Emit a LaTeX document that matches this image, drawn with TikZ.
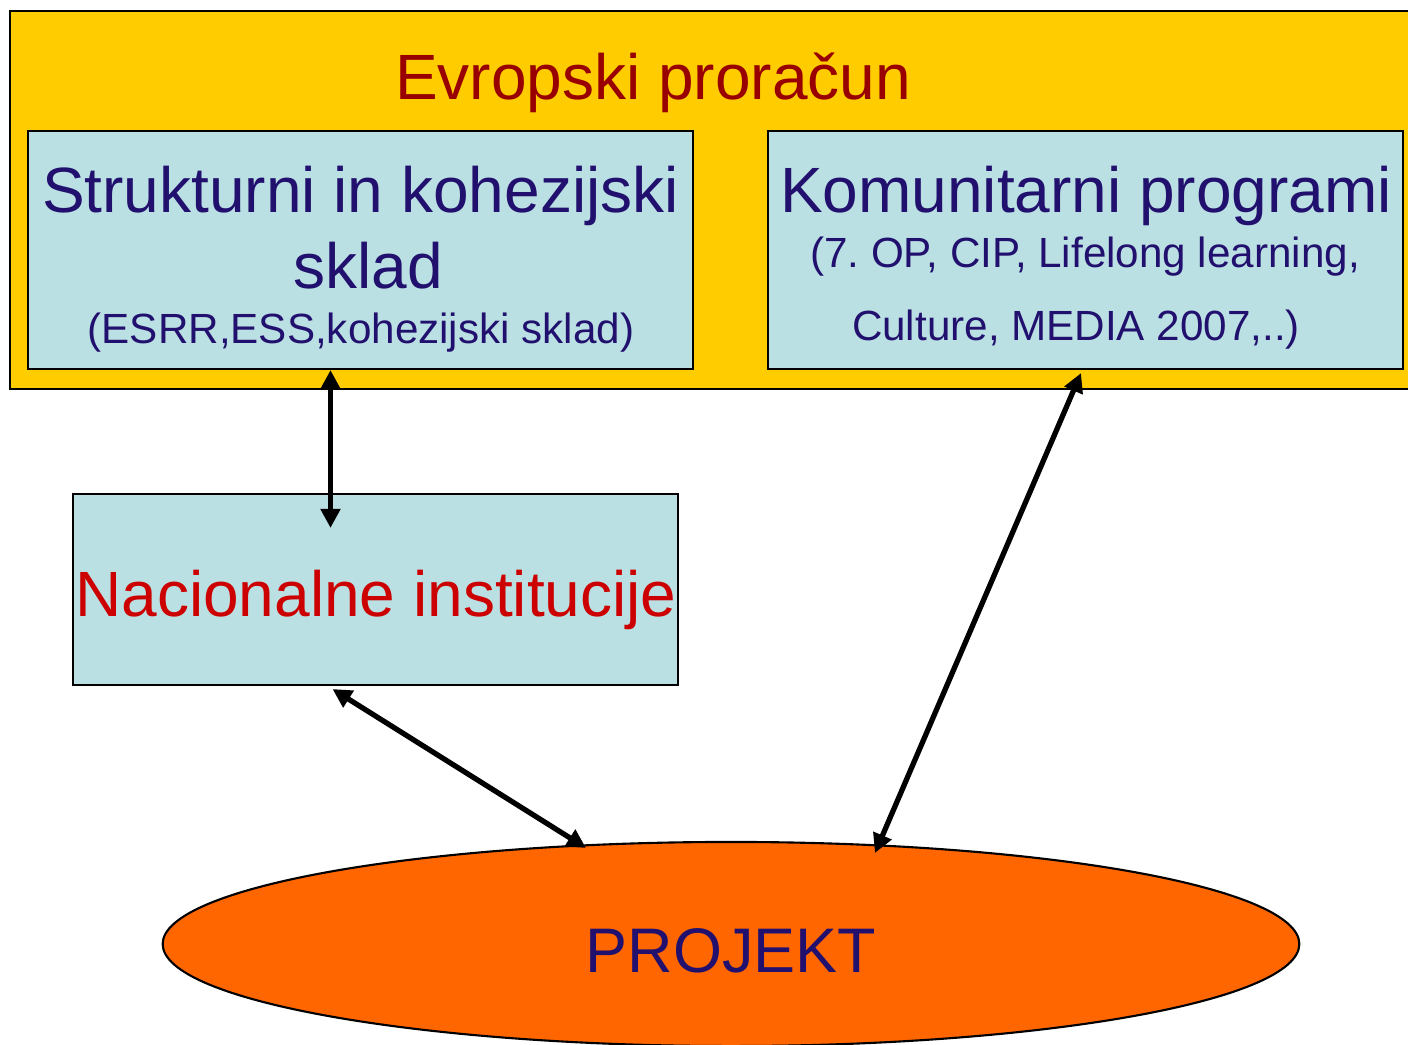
\documentclass[tikz,border=0pt]{standalone}
\usepackage{fontspec}
\setmainfont{Liberation Sans}
\usetikzlibrary{arrows.meta,calc,shapes.geometric}
\definecolor{budgetyellow}{RGB}{255,204,0}
\definecolor{boxblue}{RGB}{187,224,227}
\definecolor{projorange}{RGB}{255,102,0}
\definecolor{navytext}{RGB}{33,16,110}
\definecolor{budgetred}{RGB}{153,0,0}
\definecolor{natred}{RGB}{204,0,0}
\frenchspacing
\begin{document}
\begin{tikzpicture}[x=0.01cm, y=-0.01cm,
    fundbox/.style={draw=black, line width=0.6pt, fill=boxblue, inner sep=0pt, outer sep=0pt},
    bigtext/.style={anchor=base, text=navytext, font=\fontsize{18.2}{22}\selectfont},
    smalltext/.style={anchor=base, text=navytext, font=\fontsize{12}{15}\selectfont},
    biarrow/.style={{Triangle[length=0.19cm,width=0.19cm]}-{Triangle[length=0.19cm,width=0.19cm]}, line width=1.5pt}]
    \useasboundingbox (0,0) rectangle (1408,1045);

    % european budget
    \draw[fill=budgetyellow, line width=0.6pt] (10,11) rectangle (1430,389);
    \node[anchor=base, text=budgetred, font=\fontsize{18.2}{22}\selectfont] (budget) at (653,99) {Evropski proračun};

    \node[fundbox, minimum width=6.65cm, minimum height=2.38cm] (sklad) at (360.5,250) {};
    \node[fundbox, minimum width=6.35cm, minimum height=2.38cm] (kom) at (1085.5,250) {};
    \node[fundbox, minimum width=6.05cm, minimum height=1.91cm] (nat) at (375.5,589.5) {};
    \node[draw=black, line width=0.6pt, ellipse, fill=projorange, inner sep=0pt, outer sep=0pt,
          minimum width=11.36cm, minimum height=2.04cm] (proj) at (731,944) {};

    \node[bigtext] (skladA) at (360.5,212) {Strukturni in kohezijski};
    \node[bigtext] (skladB) at (368,288) {sklad};
    \node[smalltext] (skladC) at (361,343) {(ESRR,ESS,kohezijski sklad)};

    \node[bigtext] (komA) at (1086,212) {Komunitarni programi};
    \node[smalltext] (komB) at (1085,267) {(7. OP, CIP, Lifelong learning,};
    \node[smalltext] (komC) at (1076,340) {Culture, MEDIA 2007,..)};

    \node[anchor=base, text=natred, font=\fontsize{18.2}{22}\selectfont] (natA) at (376,616) {Nacionalne institucije};
    \node[bigtext, font=\fontsize{17.9}{21}\selectfont] (projA) at (731,972) {PROJEKT};

    % connections
    \draw[biarrow] ($(sklad.south)+(-30,1)$) -- ($(nat.north)+(-45,34)$);
    \draw[biarrow] ($(nat.south)+(-43,4)$) -- ($(proj.north)+(-145,6)$);
    \draw[biarrow] ($(kom.south)+(-4.5,4)$) -- ($(proj.north)+(144,11)$);
\end{tikzpicture}
\end{document}
